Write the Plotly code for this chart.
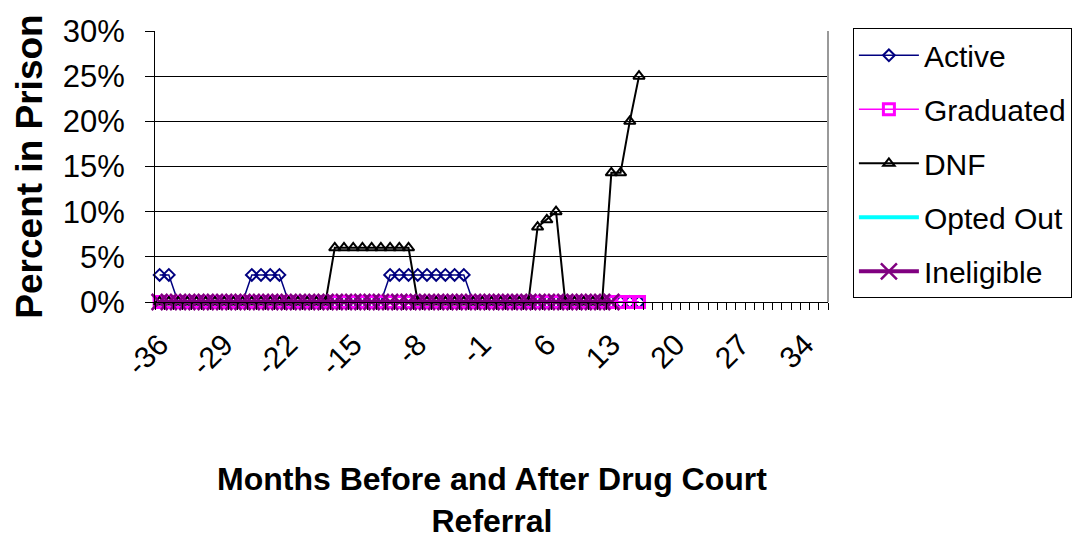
import plotly.graph_objects as go

# months relative to drug court referral (category axis)
months = list(range(-36, 37))

# percent in prison per group
active = [3, 3, 0, 0, 0, 0, 0, 0, 0, 0, 3, 3, 3, 3, 0, 0, 0, 0, 0, 0,
          0, 0, 0, 0, 0, 3, 3, 3, 3, 3, 3, 3, 3, 3, 0, 0, 0, 0, 0, 0,
          0, 0, 0, 0, 0, 0, 0, 0, 0, 0, 0, 0, 0]
graduated = [0] * 53
dnf = [0, 0, 0, 0, 0, 0, 0, 0, 0, 0, 0, 0, 0, 0, 0, 0, 0, 0, 0, 6,
       6, 6, 6, 6, 6, 6, 6, 6, 0, 0, 0, 0, 0, 0, 0, 0, 0, 0, 0, 0,
       0, 8.3, 9.1, 10, 0, 0, 0, 0, 0, 14.3, 14.3, 20, 25]
opted_out = [0] * 50
ineligible = [0] * 50

y_ticks = [0, 5, 10, 15, 20, 25, 30]
y_tick_text = ['0%', '5%', '10%', '15%', '20%', '25%', '30%']
x_tick_vals = [-36, -29, -22, -15, -8, -1, 6, 13, 20, 27, 34]
x_tick_text = ['-36', '-29', '-22', '-15', '-8', '-1', '6', '13', '20', '27', '34']

FONT = 'Liberation Sans'

fig = go.Figure()
fig.add_trace(go.Scatter(
    x=months[:len(active)], y=active, name='Active', legendgroup='a',
    mode='lines+markers', line=dict(color='#000080', width=1.5), cliponaxis=False,
    marker=dict(symbol='diamond-open', size=9, color='#000080', line=dict(width=2))
))
fig.add_trace(go.Scatter(
    x=months[:len(graduated)], y=graduated, name='Graduated', legendgroup='g',
    mode='lines+markers', line=dict(color='#ff00ff', width=1.5), cliponaxis=False,
    marker=dict(symbol='square-open', size=11, color='#ff00ff', line=dict(width=3))
))
fig.add_trace(go.Scatter(
    x=months[:len(dnf)], y=dnf, name='DNF', legendgroup='d',
    mode='lines+markers', line=dict(color='#000000', width=2), cliponaxis=False,
    marker=dict(symbol='triangle-up-open', size=10, color='#000000', line=dict(width=2))
))
fig.add_trace(go.Scatter(
    x=months[:len(opted_out)], y=opted_out, name='Opted Out', legendgroup='o',
    mode='lines', line=dict(color='#00ffff', width=4), cliponaxis=False
))
fig.add_trace(go.Scatter(
    x=months[:len(ineligible)], y=ineligible, name='Ineligible', legendgroup='i',
    mode='lines+markers', line=dict(color='#800080', width=4), cliponaxis=False,
    marker=dict(symbol='x-thin', size=16, color='#800080', line=dict(width=2.5, color='#800080'))
))

fig.update_xaxes(
    range=[-36.5, 36.5], automargin=False,
    tickmode='array', tickvals=x_tick_vals, ticktext=x_tick_text,
    tickangle=-45, tickfont=dict(family=FONT, size=30, color='black'),
    ticks='', ticklabelstandoff=12, showgrid=False, zeroline=False,
    showline=True, linecolor='black', linewidth=1,
    minor=dict(tick0=0.5, dtick=1, ticks='outside', ticklen=7,
               tickcolor='black', showgrid=False),
)
fig.update_yaxes(
    range=[0, 30], automargin=False, tickmode='array', tickvals=y_ticks,
    ticktext=y_tick_text, tickfont=dict(family=FONT, size=31, color='black'),
    ticks='outside', ticklen=9, tickcolor='black', ticklabelstandoff=14,
    showgrid=True, gridcolor='black', gridwidth=1, zeroline=False,
    showline=True, linecolor='black', linewidth=1,
    title=dict(text='Percent in Prison',
               font=dict(family=FONT, size=37, color='black', weight='bold'),
               standoff=8),
)

# x-axis title placed as an annotation below the rotated tick labels
fig.add_annotation(
    text='Months Before and After Drug Court<br>Referral',
    xref='paper', yref='paper', x=0.5, y=-0.58, xanchor='center', yanchor='top',
    showarrow=False, font=dict(family=FONT, size=32, color='black', weight='bold'),
)

fig.add_shape(type='line', xref='paper', yref='paper', x0=1, x1=1, y0=0, y1=1,
              line=dict(color='#999999', width=2))

fig.update_layout(
    width=1086, height=544,
    paper_bgcolor='white', plot_bgcolor='white',
    margin=dict(l=147, r=266, t=23, b=250),
    font=dict(family=FONT, color='black'),
    legend=dict(
        x=1.037, y=1.01, xanchor='left', yanchor='top',
        font=dict(family=FONT, size=30, color='black'),
        bordercolor='black', borderwidth=1, bgcolor='white',
        tracegroupgap=12, itemwidth=60,
    ),
)

fig.write_html('out.html')
